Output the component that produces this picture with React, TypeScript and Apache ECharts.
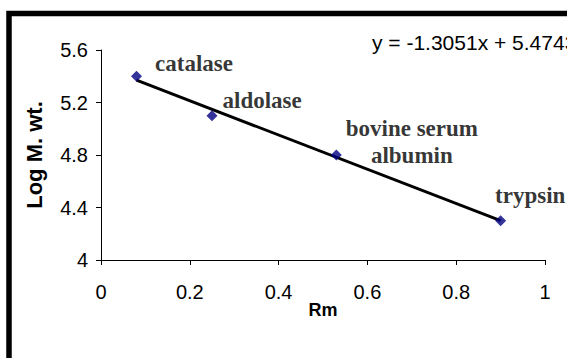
import React, { useEffect, useRef } from "react";
import * as echarts from "echarts";

// Data
const rmValues = [0.08, 0.25, 0.53, 0.9];
const logMw = [5.4, 5.1, 4.8, 4.3];
const proteins = ["catalase", "aldolase", "bovine serum\nalbumin", "trypsin"];
const trendX = [0.08, 0.9];
const trendY = [5.37, 4.3];
const equationText = "y = -1.3051x + 5.4743";
const yAxisTitle = "Log M. wt.";
const xAxisTitle = "Rm";

// Label placement (style, not data)
const labelOffsets: [number, number][] = [
  [13, -13],
  [5, -15],
  [70, -13],
  [-11, -25],
];
const labelAligns = ["left", "left", "center", "left"];

const SANS = "'Liberation Sans', Arial, sans-serif";
const SERIF = "'Liberation Serif', 'Times New Roman', serif";

export default function App() {
  const ref = useRef<HTMLDivElement>(null);
  useEffect(() => {
    if (!ref.current) return;
    const chart = echarts.init(ref.current, null, { renderer: "svg" });
    const points = rmValues.map((x, i) => ({
      value: [x, logMw[i]],
      label: {
        show: true,
        formatter: proteins[i],
        position: "right",
        distance: 0,
        offset: labelOffsets[i],
        align: labelAligns[i],
        verticalAlign: "middle",
        fontFamily: SERIF,
        fontWeight: "bold",
        fontSize: 23,
        lineHeight: 27,
        color: "#000",
      },
    }));
    chart.setOption({
      animation: false,
      backgroundColor: "#fff",
      grid: { left: 101, right: 22, top: 50, bottom: 98 },
      xAxis: {
        type: "value",
        min: 0,
        max: 1,
        interval: 0.2,
        name: xAxisTitle,
        nameLocation: "middle",
        nameGap: 41,
        nameMoveOverlap: false,
        nameTextStyle: {
          fontFamily: SANS,
          fontWeight: "bold",
          fontSize: 18,
          color: "#000",
          verticalAlign: "top",
        },
        axisLine: { show: true, lineStyle: { color: "#000", width: 1 } },
        axisTick: { show: true, length: 5, lineStyle: { color: "#000" } },
        splitLine: { show: false },
        axisLabel: {
          margin: 22,
          fontFamily: SANS,
          fontSize: 20,
          color: "#000",
          formatter: (v: number) => String(parseFloat(v.toFixed(1))),
        },
      },
      yAxis: {
        type: "value",
        min: 4,
        max: 5.6,
        interval: 0.4,
        name: yAxisTitle,
        nameLocation: "middle",
        nameGap: 56,
        nameMoveOverlap: false,
        nameTextStyle: { fontFamily: SANS, fontWeight: "bold", fontSize: 22, color: "#000" },
        axisLine: { show: true, lineStyle: { color: "#000", width: 1 } },
        axisTick: { show: true, length: 5, lineStyle: { color: "#000" } },
        splitLine: { show: false },
        axisLabel: {
          margin: 13,
          fontFamily: SANS,
          fontSize: 20,
          color: "#000",
          formatter: (v: number) => String(parseFloat(v.toFixed(1))),
        },
      },
      series: [
        {
          type: "line",
          data: trendX.map((x, i) => [x, trendY[i]]),
          symbol: "none",
          lineStyle: { color: "#000", width: 3 },
          z: 2,
        },
        {
          type: "scatter",
          data: points,
          symbol: "diamond",
          symbolSize: 11,
          itemStyle: { color: "#000080" },
          z: 3,
        },
      ],
      graphic: [
        {
          type: "rect",
          shape: { x: 9, y: 13.5, width: 700, height: 500 },
          style: { fill: "none", stroke: "#000", lineWidth: 5.5 },
          silent: true,
          z: 10,
        },
        {
          type: "text",
          x: 372,
          y: 42,
          style: {
            text: equationText,
            fontFamily: SANS,
            fontSize: 21,
            fill: "#000",
            textAlign: "left",
            textVerticalAlign: "middle",
          },
          z: 10,
        },
      ],
    });
    return () => chart.dispose();
  }, []);
  return (
    <div
      ref={ref}
      style={{ position: "fixed", left: 0, top: 0, width: 567, height: 358 }}
    />
  );
}
